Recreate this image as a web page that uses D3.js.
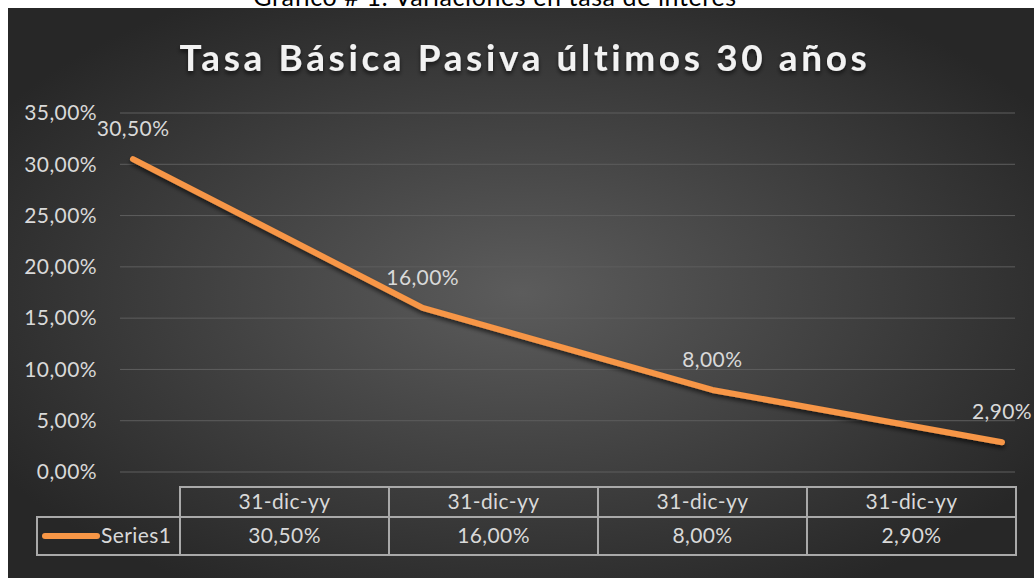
<html>
<head>
  <script src="https://d3js.org/d3.v7.min.js"></script>
  <style>
    body { margin: 0; padding: 0; background: #fff; }
    svg text { font-family: Lato, "Open Sans", sans-serif; }
    .lbl { font-size: 21px; letter-spacing: 0.4px; fill: #d9d9d9; }
  </style>
</head>
<body>
  <div id="chart"></div>
<script>
// data
const categories = ["31-dic-yy", "31-dic-yy", "31-dic-yy", "31-dic-yy"];
const values = [30.5, 16.0, 8.0, 2.9];
const yTicks = [0, 5, 10, 15, 20, 25, 30, 35];
const seriesName = "Series1";
const title = "Tasa Básica Pasiva últimos 30 años";
const caption = "Gráfico # 1: Variaciones en tasa de interés";

const width = 1034, height = 578;
const es = d3.formatLocale({ decimal: ",", thousands: ".", grouping: [3], currency: ["", "€"] });
const pct = v => es.format(".2f")(v) + "%";

const svg = d3.select("#chart").append("svg")
  .attr("width", width).attr("height", height);

const defs = svg.append("defs");
const grad = defs.append("radialGradient").attr("id", "bg")
  .attr("cx", "50%").attr("cy", "50%").attr("r", "60%");
grad.append("stop").attr("offset", "0%").attr("stop-color", "#5c5c5c");
grad.append("stop").attr("offset", "100%").attr("stop-color", "#272727");

const shadow = defs.append("filter").attr("id", "shadow")
  .attr("x", "-10%").attr("y", "-10%").attr("width", "120%").attr("height", "130%");
shadow.append("feDropShadow").attr("dx", 0).attr("dy", 3).attr("stdDeviation", 2)
  .attr("flood-color", "#000").attr("flood-opacity", 0.6);

// caption above the chart, mostly hidden behind the chart box
svg.append("text")
  .attr("x", 495).attr("y", 6)
  .attr("text-anchor", "middle")
  .style("font-size", "25px")
  .style("letter-spacing", "0.6px")
  .style("fill", "#000")
  .text(caption);

svg.append("rect")
  .attr("x", 8).attr("y", 8)
  .attr("width", width - 8).attr("height", height - 8)
  .attr("fill", "url(#bg)");

svg.append("text")
  .attr("x", 525).attr("y", 71)
  .attr("text-anchor", "middle")
  .attr("filter", "url(#shadow)")
  .style("font-size", "37px")
  .style("font-weight", "bold")
  .style("letter-spacing", "3.6px")
  .style("fill", "#f2f2f2")
  .text(title);

const x = d3.scalePoint().domain(d3.range(values.length)).range([133, 1002]);
const y = d3.scaleLinear().domain([0, 35]).range([472, 113]);

// gridlines
svg.append("g").selectAll("line")
  .data(yTicks)
  .join("line")
  .attr("x1", 120).attr("x2", 1015)
  .attr("y1", d => y(d)).attr("y2", d => y(d))
  .attr("stroke", "#5e5e5e").attr("stroke-width", 1);

// y axis
const yAxis = svg.append("g")
  .attr("transform", "translate(104,0)")
  .call(d3.axisLeft(y).tickValues(yTicks).tickSize(0).tickPadding(7).tickFormat(pct));
yAxis.select(".domain").remove();
yAxis.selectAll("text")
  .attr("class", "lbl")
  .style("font-family", "Lato, sans-serif");

// line
const line = d3.line().x((d, i) => x(i)).y(d => y(d));
svg.append("path")
  .datum(values)
  .attr("d", line)
  .attr("fill", "none")
  .attr("stroke", "#f79646")
  .attr("stroke-width", 6)
  .attr("stroke-linecap", "round")
  .attr("stroke-linejoin", "round")
  .attr("filter", "url(#shadow)");

// data labels
svg.append("g").selectAll("text")
  .data(values)
  .join("text")
  .attr("class", "lbl")
  .attr("x", (d, i) => x(i))
  .attr("y", d => y(d) - 23)
  .attr("text-anchor", "middle")
  .text(d => pct(d));

// data table
const col = d3.scaleBand().domain(d3.range(values.length)).range([180, 1016]);
const rowTop = 487, rowMid = 517, rowBot = 555;
const table = svg.append("g").attr("fill", "none").attr("stroke", "#a9a9a9").attr("stroke-width", 2);

table.append("rect").attr("x", 180).attr("y", rowTop)
  .attr("width", col.range()[1] - 180).attr("height", rowBot - rowTop);
table.append("rect").attr("x", 37).attr("y", rowMid)
  .attr("width", 180 - 37).attr("height", rowBot - rowMid);
table.append("line").attr("x1", 180).attr("x2", col.range()[1])
  .attr("y1", rowMid).attr("y2", rowMid);
table.selectAll("line.col")
  .data(d3.range(1, values.length))
  .join("line")
  .attr("class", "col")
  .attr("x1", d => col(d)).attr("x2", d => col(d))
  .attr("y1", rowTop).attr("y2", rowBot);

svg.append("g").selectAll("text")
  .data(categories)
  .join("text")
  .attr("class", "lbl")
  .attr("x", (d, i) => col(i) + col.bandwidth() / 2)
  .attr("y", (rowTop + rowMid) / 2)
  .attr("dy", "0.35em")
  .attr("text-anchor", "middle")
  .text(d => d);

svg.append("g").selectAll("text")
  .data(values)
  .join("text")
  .attr("class", "lbl")
  .attr("x", (d, i) => col(i) + col.bandwidth() / 2)
  .attr("y", (rowMid + rowBot) / 2)
  .attr("dy", "0.35em")
  .attr("text-anchor", "middle")
  .text(d => pct(d));

// legend key inside the table
svg.append("line")
  .attr("x1", 45).attr("x2", 97)
  .attr("y1", 536).attr("y2", 536)
  .attr("stroke", "#f79646").attr("stroke-width", 6)
  .attr("stroke-linecap", "round");
svg.append("text")
  .attr("class", "lbl")
  .attr("x", 101).attr("y", 536)
  .attr("dy", "0.35em")
  .text(seriesName);
</script>
</body>
</html>
